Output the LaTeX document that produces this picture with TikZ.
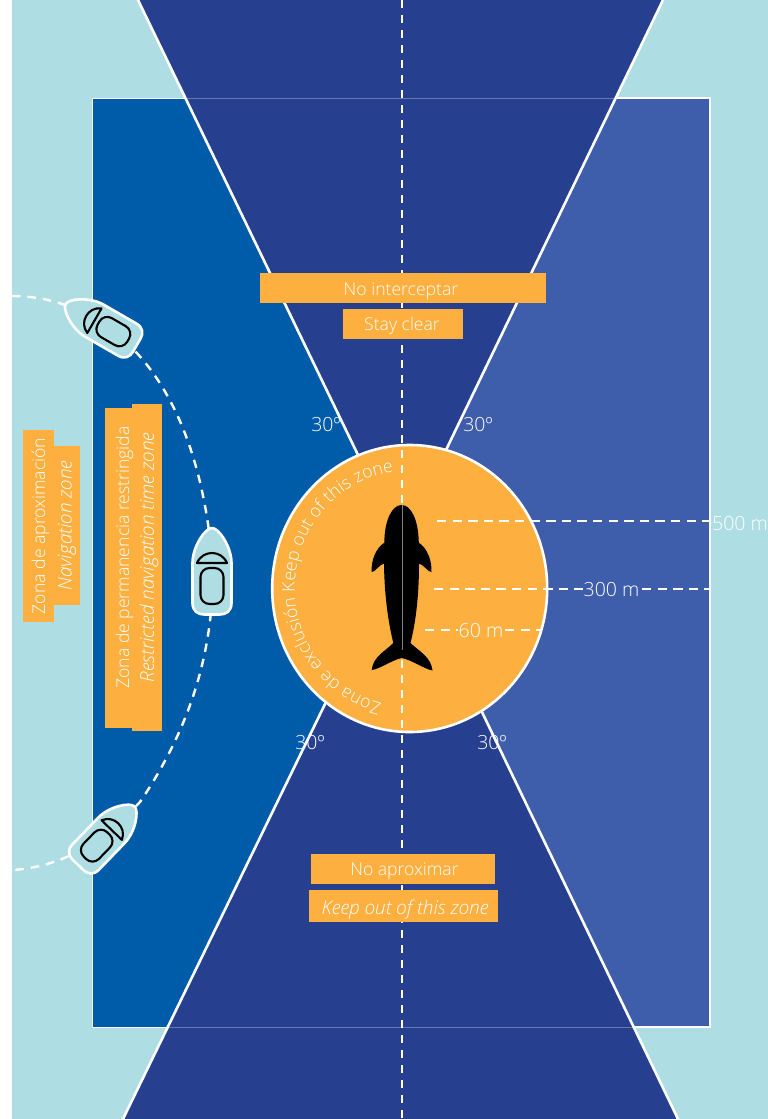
\documentclass[tikz,border=0pt]{standalone}
\usepackage{fontspec}
\setmainfont{Open Sans Light}[ItalicFont={Open Sans Light Italic}]
\usetikzlibrary{positioning,decorations.text}
\definecolor{seaLight}{HTML}{AEDDE3}
\definecolor{seaBlue}{HTML}{005BA8}
\definecolor{seaMid}{HTML}{3E5DAA}
\definecolor{seaDark}{HTML}{26408F}
\definecolor{tagOrange}{HTML}{FDB040}
\newcommand{\labelfont}{\fontsize{17.6}{20}\selectfont}
\newcommand{\slantfont}{\fontsize{19}{22}\selectfont\itshape}
\newcommand{\measurefont}{\fontsize{19.5}{22}\selectfont}
\tikzset{
  boat/.pic={
    \draw[white,line width=2.6pt,fill=seaLight,line join=round]
      (0,43) .. controls (7,43) and (19.5,24) .. (19.5,8) -- (19.5,-32)
      .. controls (19.5,-40) and (14,-43.5) .. (8,-43.5) -- (-8,-43.5)
      .. controls (-14,-43.5) and (-19.5,-40) .. (-19.5,-32) -- (-19.5,8)
      .. controls (-19.5,24) and (-7,43) .. (0,43) -- cycle;
    \draw[black,line width=2.1pt,line join=round] (-15,8) .. controls (-12,15) and (-6,18) .. (0,18)
      .. controls (6,18) and (12,15) .. (15,8) -- cycle;
    \draw[black,line width=2.1pt,rounded corners=9pt] (-11.5,-33) rectangle (11.5,3);
  }
}
\begin{document}
\begin{tikzpicture}[x=1pt,y=1pt]
    %styles
    \tikzstyle{tag}=[fill=tagOrange,inner sep=0pt,text=white,font=\labelfont,text height=14pt,text depth=1pt]
    \tikzstyle{plain}=[inner sep=0pt,text=white,font=\labelfont]
    \tikzstyle{figure}=[inner sep=0pt,text=white,font=\measurefont]
    \tikzstyle{edge}=[white,line width=2.6pt]
    \tikzstyle{measure}=[white,line width=2.1pt,dash pattern=on 9.3pt off 6.3pt]
    \useasboundingbox (0,0) rectangle (768,-1119);
    %water
    \fill[white] (0,0) rectangle (768,-1119);
    \fill[seaLight] (12,0) rectangle (768,-1119);
    \fill[seaBlue] (92.5,-98) rectangle (402,-1027);
    \fill[seaMid] (402,-98) rectangle (710,-1027);
    \fill[seaDark] (138,0) -- (663,0) -- (446,-450) -- (402,-600) -- (358,-455) -- cycle;
    \fill[seaDark] (123,-1119) -- (678,-1119) -- (481,-710) -- (402,-600) -- (326,-702) -- cycle;
    %borders
    \draw[white,line width=0.9pt] (186,-98) -- (92.5,-98) -- (92.5,-1027) -- (168,-1027);
    \draw[white,opacity=0.3,line width=0.7pt] (186,-98) -- (617,-98);
    \draw[white,opacity=0.3,line width=0.7pt] (168,-1027) -- (635,-1027);
    \draw[edge] (617,-98) -- (710,-98) -- (710,-1027) -- (635,-1027);
    \draw[edge] (138,0) -- (358,-455);
    \draw[edge] (663,0) -- (446,-450);
    \draw[edge] (123,-1119) -- (326,-702);
    \draw[edge] (678,-1119) -- (481,-710);
    %exclusion circle
    \draw[edge,fill=tagOrange] (409.7,-588.5) ellipse [x radius=137.5,y radius=143.5];
    \draw[measure,line width=2.4pt,dash pattern=on 8pt off 7pt] (402,0) -- (402,-1119);
    %route
    \draw[white,line width=2.4pt,dash pattern=on 8.5pt off 7pt]
      (12,-296) .. controls (95,-296) and (198,-360) .. (213,-570)
      .. controls (213,-650) and (192,-725) .. (140,-802)
      .. controls (100,-845) and (60,-867) .. (12,-870);
    %boats
    \pic[rotate=60,scale=0.95] at (101,-324.5) {boat};
    \pic at (212,-571) {boat};
    \pic[rotate=-44,scale=0.94] at (106.5,-835.5) {boat};
    %whale
    \fill[black] (401.7,-505)
      .. controls (392,-505) and (384.5,-520) .. (384.3,-542.7)
      .. controls (376,-548) and (371,-560) .. (371.7,-572)
      .. controls (374,-573) and (380,-564) .. (384,-563.5)
      .. controls (384.5,-600) and (389,-625) .. (393.3,-643)
      .. controls (384,-652) and (373,-657) .. (371.7,-670)
      .. controls (380,-669) and (392,-660) .. (401.7,-658)
      .. controls (412,-660) and (424,-669) .. (432.5,-670.5)
      .. controls (431,-657) and (420,-652) .. (410.5,-643)
      .. controls (415,-625) and (419,-600) .. (419,-563.5)
      .. controls (423,-564) and (429,-573) .. (431.5,-572)
      .. controls (432,-560) and (427,-548) .. (418.8,-542.7)
      .. controls (418.5,-520) and (411,-505) .. (401.7,-505) -- cycle;
    \draw[gray,line width=0.4pt] (401.7,-505) -- (401.7,-650);
    %circle text
    \path[decorate,decoration={text along path,text color=white,text align={fit to path},
      text={|\labelfont|Zona de exclusión Keep out of this zone}}]
      (409.7,-588.5) ++(256:115 and 118) arc [start angle=256,end angle=98,x radius=115,y radius=118];
    %measures
    \draw[measure] (437,-521) -- (710,-521);
    \node[figure,anchor=west] (d500) at (712,-524) {500 m};
    \draw[measure] (434,-589) -- (583,-589);
    \draw[measure] (642,-589) -- (710,-589);
    \node[figure] (d300) at (611.5,-590) {300 m};
    \draw[measure] (425,-630) -- (458,-630);
    \draw[measure] (505,-630) -- (540,-630);
    \node[figure] (d60) at (481,-631) {60 m};
    %angles
    \node[figure] (a1) at (326,-425) {30º};
    \node[figure] (a2) at (478,-425) {30º};
    \node[figure] (a3) at (310,-743) {30º};
    \node[figure] (a4) at (492,-743) {30º};
    %tags
    \node[tag,minimum width=286pt,minimum height=30pt,text height=16pt] (t1) at (403,-288) {\hspace{-4pt}No interceptar};
    \node[tag,minimum width=120pt,minimum height=30pt] (t2) at (403,-324) {\hspace{-2pt}Stay clear};
    \node[tag,minimum width=184pt,minimum height=30pt] (t3) at (403,-869) {\hspace{3pt}No aproximar};
    \node[tag,minimum width=189pt,minimum height=32pt,text height=18pt] (t4) at (403.5,-906) {\hspace{3pt}\slantfont Keep out of this zone};
    \node[tag,rotate=90,minimum width=192pt,minimum height=31pt] (t5) at (38.5,-526) {Zona de aproximación};
    \node[tag,rotate=90,minimum width=159pt,minimum height=26pt,text height=10pt] (t6) at (67,-525.5) {\slantfont Navigation zone};
    \node[tag,rotate=90,minimum width=320pt,minimum height=27pt] (t7) at (118.5,-568) {};
    \node[tag,rotate=90,minimum width=327pt,minimum height=30pt] (t8) at (147,-567.5) {};
    \node[plain,rotate=90] (t9) at (124.5,-557.5) {Zona de permanencia restringida};
    \node[plain,rotate=90] (t10) at (149,-557.5) {\slantfont Restricted navigation time zone};
\end{tikzpicture}
\end{document}
